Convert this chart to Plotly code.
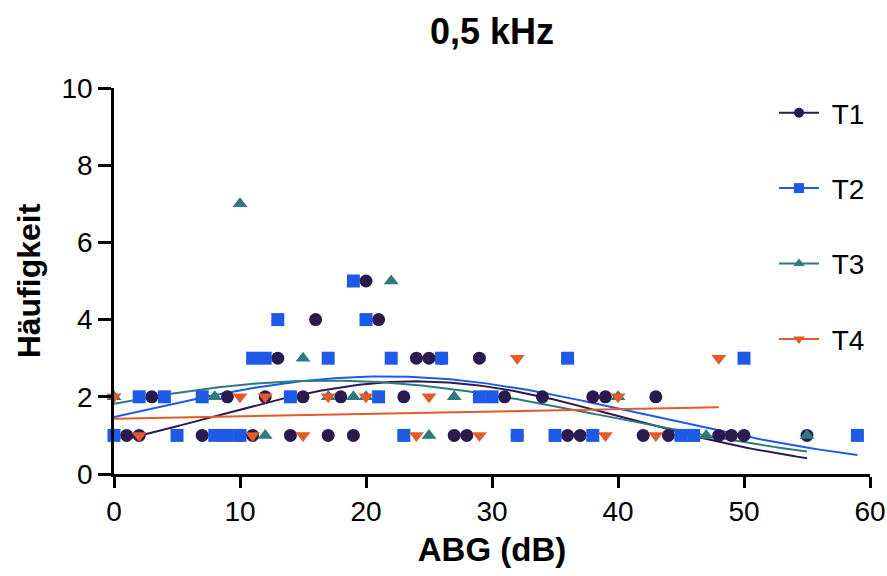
import numpy as np
import plotly.graph_objects as go

# ---------------- data ----------------
series_names = ["T1", "T2", "T3", "T4"]

t1_x = [1, 2, 7, 10, 11, 14, 17, 19, 27, 28, 32, 36, 37, 42, 44, 48, 49, 50, 55,
        3, 9, 12, 15, 18, 23, 31, 34, 38, 39, 43,
        13, 24, 25, 26, 29,
        16, 21,
        20]
t1_y = [1] * 19 + [2] * 11 + [3] * 5 + [4] * 2 + [5]

t2_x = [0, 5, 8, 9, 10, 23, 32, 35, 38, 45, 46, 59,
        2, 4, 7, 14, 21, 29, 30,
        11, 12, 17, 22, 26, 36, 50,
        13, 20,
        19]
t2_y = [1] * 12 + [2] * 7 + [3] * 7 + [4] * 2 + [5]

t3_x = [12, 25, 47, 55,
        0, 8, 17, 19, 20, 27, 40,
        15,
        22,
        10]
t3_y = [1] * 4 + [2] * 7 + [3] + [5] + [7]

t4_x = [2, 11, 15, 24, 29, 39, 43,
        0, 10, 12, 17, 20, 25, 40,
        32, 48]
t4_y = [1] * 7 + [2] * 7 + [3] * 2

# Gaussian fit parameters (amplitude, mean, SD) and fitted x-range
fit_t1 = dict(amp=2.40, mean=24.0, sd=16.5, xmin=1, xmax=55)
fit_t2 = dict(amp=2.53, mean=21.5, sd=20.7, xmin=0, xmax=59)
fit_t3 = dict(amp=2.42, mean=17.0, sd=22.5, xmin=0, xmax=55)
# T4 fit is nearly flat: start / end values
fit_t4 = dict(y0=1.43, y1=1.73, xmin=0, xmax=48)

x_ticks = [0, 10, 20, 30, 40, 50, 60]
y_ticks = [0, 2, 4, 6, 8, 10]

colors = ["#2B1A4E", "#1D5BE6", "#2E7A7C", "#E35A2B"]
symbols = ["circle", "square", "triangle-up", "triangle-down"]

FONT = "Liberation Sans, Arial, Helvetica, sans-serif"


def gauss(xs, p):
    return p["amp"] * np.exp(-((xs - p["mean"]) ** 2) / (2 * p["sd"] ** 2))


fig = go.Figure()

xs_data = [t1_x, t2_x, t3_x, t4_x]
ys_data = [t1_y, t2_y, t3_y, t4_y]

# fitted curves
curves = []
for p in [fit_t1, fit_t2, fit_t3]:
    gx = np.linspace(p["xmin"], p["xmax"], 200)
    curves.append((gx, gauss(gx, p)))
gx4 = np.linspace(fit_t4["xmin"], fit_t4["xmax"], 50)
curves.append((gx4, fit_t4["y0"] + (fit_t4["y1"] - fit_t4["y0"]) * (gx4 - gx4[0]) / (gx4[-1] - gx4[0])))

for i in range(4):
    fig.add_trace(go.Scatter(
        x=curves[i][0], y=curves[i][1], mode="lines",
        line=dict(color=colors[i], width=2), showlegend=False, hoverinfo="skip",
        cliponaxis=False))

# data points
for i in range(4):
    fig.add_trace(go.Scatter(
        x=xs_data[i], y=ys_data[i], mode="markers",
        marker=dict(symbol=symbols[i], color=colors[i], size=13, line=dict(width=0)),
        showlegend=False, cliponaxis=False, name=series_names[i]))

# legend entries (line + marker)
for i in range(4):
    fig.add_trace(go.Scatter(
        x=[None], y=[None], mode="lines+markers", name="\u00a0" + series_names[i],
        line=dict(color=colors[i], width=2),
        marker=dict(symbol=symbols[i], color=colors[i], size=10),
        legendgroup=series_names[i]))

fig.update_layout(
    width=887, height=576,
    margin=dict(l=114, r=17, t=88, b=102, autoexpand=False),
    paper_bgcolor="white", plot_bgcolor="white",
    font=dict(family=FONT, color="black"),
    title=dict(text="<b>0,5 kHz</b>", x=0.5, xref="paper", xanchor="center",
               y=0.945, yref="container", yanchor="middle",
               font=dict(size=36, family=FONT, color="black")),
    xaxis=dict(range=[0, 60], tickvals=x_ticks, ticktext=[str(v) for v in x_ticks],
               automargin=False,
               showgrid=False, zeroline=False, showline=True, linecolor="black", linewidth=2.5,
               ticks="outside", ticklen=11, tickwidth=2.5, tickcolor="black",
               tickfont=dict(size=28, family=FONT),
               title=dict(text="<b>ABG (dB)</b>", font=dict(size=33, family=FONT), standoff=12)),
    yaxis=dict(range=[0, 10], tickvals=y_ticks, ticktext=[str(v) for v in y_ticks],
               automargin=False,
               showgrid=False, zeroline=False, showline=True, linecolor="black", linewidth=2.5,
               ticks="outside", ticklen=13, tickwidth=2.5, tickcolor="black",
               tickfont=dict(size=28, family=FONT),
               title=dict(text="<b>Häufigkeit</b>", font=dict(size=32, family=FONT), standoff=12)),
    legend=dict(x=0.873, y=1.0, xanchor="left", yanchor="top",
                font=dict(size=28, family=FONT), tracegroupgap=36,
                bgcolor="rgba(0,0,0,0)", itemwidth=40),
)

fig.write_html("out.html")
